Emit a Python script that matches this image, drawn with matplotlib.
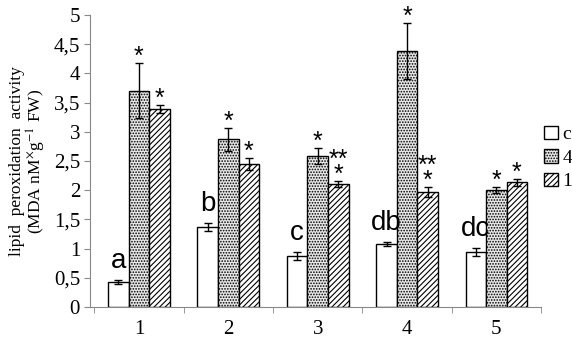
import matplotlib
matplotlib.use("Agg")
import matplotlib.pyplot as plt
import numpy as np

# data
groups = ["1", "2", "3", "4", "5"]
series = ["c", "4", "1"]
val_c = [0.43, 1.37, 0.87, 1.08, 0.95]
val_4 = [3.70, 2.87, 2.59, 4.38, 2.00]
val_1 = [3.39, 2.45, 2.10, 1.97, 2.14]
err_c = [0.04, 0.07, 0.07, 0.03, 0.07]
err_4 = [0.47, 0.20, 0.14, 0.48, 0.05]
err_1 = [0.07, 0.10, 0.05, 0.08, 0.06]
letters = ["a", "b", "c", "db", "dc"]
stars_4 = ["*", "*", "*", "*", "*"]
stars_1 = ["*", "*", "**\n*", "**\n*", "*"]

plt.rcParams["font.family"] = "Liberation Serif"
plt.rcParams["mathtext.fontset"] = "stix"
plt.rcParams["hatch.linewidth"] = 0.8

fig = plt.figure(figsize=(5.72, 3.39), dpi=100)
ax = fig.add_axes([0.157, 0.094, 0.789, 0.862])

x = np.arange(len(groups))
w = 0.23
ekw = dict(elinewidth=1.0, capsize=3, capthick=1.0, ecolor="black")

ax.bar(x - w, val_c, w, yerr=err_c, color="white", edgecolor="black",
       linewidth=1.0, error_kw=ekw, label=series[0])
ax.bar(x, val_4, w, yerr=err_4, color="#e8e8e8", edgecolor="black",
       hatch="......", linewidth=1.0, error_kw=ekw, label=series[1])
ax.bar(x + w, val_1, w, yerr=err_1, color="white", edgecolor="black",
       hatch="//////", linewidth=1.0, error_kw=ekw, label=series[2])

for i in x:
    ax.text(i - w, val_c[i] + err_c[i] + 0.1, letters[i], ha="center",
            va="bottom", family="Liberation Sans", fontsize=20)
    ax.text(i, val_4[i] + err_4[i] - 0.1, stars_4[i], ha="center",
            va="bottom", family="Liberation Sans", fontsize=18)
    ax.text(i + w, val_1[i] + err_1[i] - 0.1, stars_1[i], ha="center",
            va="bottom", family="Liberation Sans", fontsize=18,
            linespacing=0.55)

ax.set_xlim(-0.55, 4.5)
ax.set_ylim(0, 5)
ax.set_yticks(np.arange(0, 5.01, 0.5))
ax.set_yticklabels(["0", "0,5", "1", "1,5", "2", "2,5", "3", "3,5", "4", "4,5", "5"])
ax.set_xticks(x)
ax.set_xticklabels(groups)
ax.set_xticks(np.arange(-0.5, 4.6, 1), minor=True)
ax.tick_params(axis="x", which="major", length=0, pad=9, labelsize=15)
ax.tick_params(axis="x", which="minor", length=4, color="#888888")
ax.tick_params(axis="y", length=4, color="#888888", labelsize=15, pad=3)

for s in ["top", "right"]:
    ax.spines[s].set_visible(False)
ax.spines["left"].set_color("#888888")
ax.spines["bottom"].set_color("#888888")

ax.set_ylabel("lipid  peroxidation  activity\n(MDA nM$^{\\times}$g$^{-1}$ FW)",
              fontsize=12.5, linespacing=1.0, labelpad=4)

ax.legend(loc="center left", bbox_to_anchor=(0.985, 0.51), frameon=False,
          fontsize=14, handlelength=0.7, handleheight=0.7, handletextpad=0.25,
          labelspacing=0.3, borderpad=0)

fig.savefig("out.png", dpi=100)
plt.close(fig)
